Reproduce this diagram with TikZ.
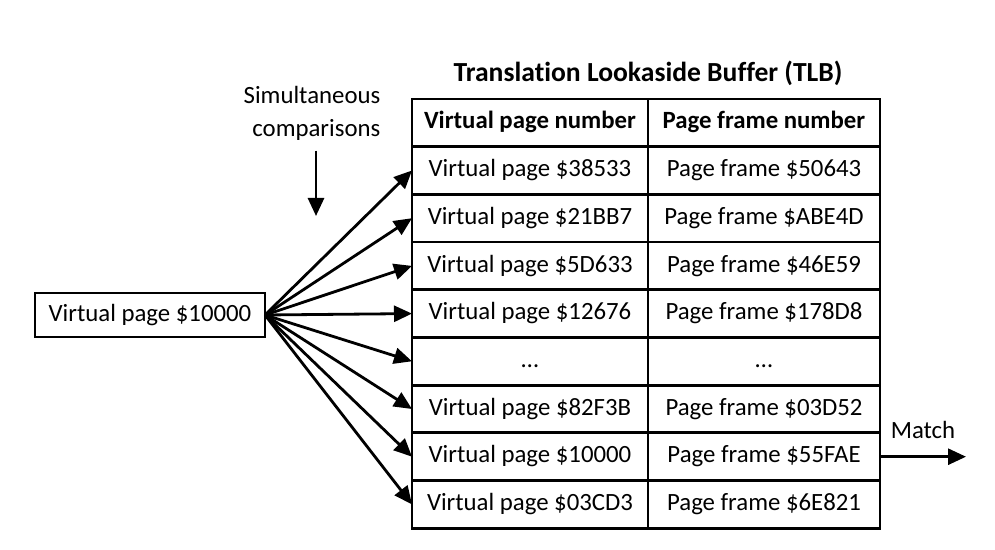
\documentclass[tikz,border=0pt]{standalone}
\usepackage{fontspec}
\setmainfont{Carlito}[Ligatures=NoCommon]
\usepackage{tikz}
\usetikzlibrary{arrows.meta,positioning}

\begin{document}
\begin{tikzpicture}[
    font=\fontsize{12.4pt}{14.5pt}\selectfont,
    cell/.style={rectangle, draw=black, line width=1.4pt, minimum width=118pt,
      minimum height=23.85pt, text height=8.6pt, text depth=2.4pt, inner sep=0pt,
      outer sep=0pt, align=center},
    frame/.style={cell, minimum width=116pt},
    head/.style={font=\fontsize{12.4pt}{14.5pt}\selectfont\bfseries},
    fleche/.style={-{Triangle[length=9pt,width=8pt]}, draw=black, line width=1.4pt}
  ]
    \useasboundingbox (0pt,0pt) rectangle (497.5pt,-275pt);
    % TLB table
    \node[cell, head] (v0) at (265pt,-61.4pt) {Virtual page number};
    \node[frame, head, right=0pt of v0] (p0) {Page frame number};
    \node[cell, below=0pt of v0] (v1) {Virtual page \$38533};
    \node[frame, right=0pt of v1] (p1) {Page frame \$50643};
    \node[cell, below=0pt of v1] (v2) {Virtual page \$21BB7};
    \node[frame, right=0pt of v2] (p2) {Page frame \$ABE4D};
    \node[cell, below=0pt of v2] (v3) {Virtual page \$5D633};
    \node[frame, right=0pt of v3] (p3) {Page frame \$46E59};
    \node[cell, below=0pt of v3] (v4) {Virtual page \$12676};
    \node[frame, right=0pt of v4] (p4) {Page frame \$178D8};
    \node[cell, below=0pt of v4] (v5) {…};
    \node[frame, right=0pt of v5] (p5) {…};
    \node[cell, below=0pt of v5] (v6) {Virtual page \$82F3B};
    \node[frame, right=0pt of v6] (p6) {Page frame \$03D52};
    \node[cell, below=0pt of v6] (v7) {Virtual page \$10000};
    \node[frame, right=0pt of v7] (p7) {Page frame \$55FAE};
    \node[cell, below=0pt of v7] (v8) {Virtual page \$03CD3};
    \node[frame, right=0pt of v8] (p8) {Page frame \$6E821};
    \node[font=\fontsize{13.8pt}{16pt}\selectfont\bfseries, above=3pt of p0.north west]
      (tlb) {Translation Lookaside Buffer (TLB)};

    % searched page
    \node[cell, minimum width=115pt, minimum height=22pt] (src) at (75pt,-157.5pt)
      {Virtual page \$10000};
    \draw[fleche] (src.east) -- (v1.west);
    \draw[fleche] (src.east) -- (v2.west);
    \draw[fleche] (src.east) -- (v3.west);
    \draw[fleche] (src.east) -- (v4.west);
    \draw[fleche] (src.east) -- (v5.west);
    \draw[fleche] (src.east) -- (v6.west);
    \draw[fleche] (src.east) -- (v7.west);
    \draw[fleche] (src.east) -- (v8.west);

    % comparisons
    \node[align=right, inner sep=0pt, font=\fontsize{12.4pt}{16.5pt}\selectfont]
      (cmp) at (156pt,-56.5pt) {Simultaneous\\ comparisons};
    \coordinate (down) at (158pt,-108pt);
    \draw[fleche] (down |- cmp.south) ++(0,-5pt) -- (down);

    % match
    \coordinate (hit) at (483pt,0pt);
    \draw[fleche] (p7.east) -- (p7.east -| hit) node[midway, above=5pt] (match) {Match};
  \end{tikzpicture}
\end{document}
